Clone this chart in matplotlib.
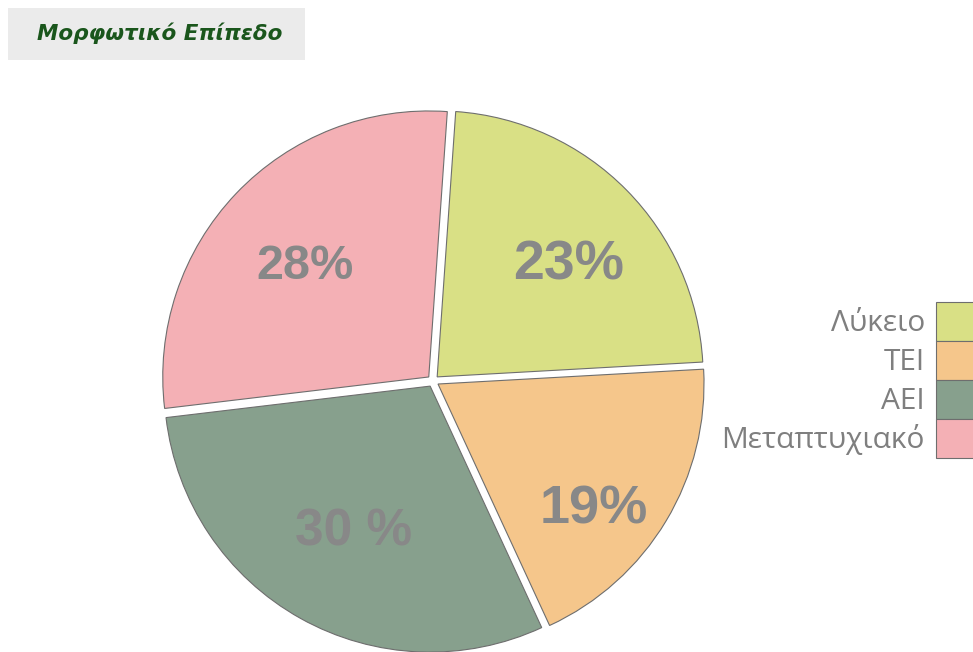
import numpy as np
import matplotlib
matplotlib.use("Agg")
import matplotlib.pyplot as plt
from matplotlib.patches import Rectangle

# data
categories = ["Λύκειο", "ΤΕΙ", "ΑΕΙ", "Μεταπτυχιακό"]
shares = [23, 19, 30, 28]
pct_labels = ["23%", "19%", "30 %", "28%"]
colors = ["#d9e085", "#f5c68b", "#87a08d", "#f4b0b5"]
title = "Μορφωτικό Επίπεδο"

W, H = 973, 652
fig = plt.figure(figsize=(W / 100, H / 100), dpi=100)

# pie axes: centre at (433, 381) px from top-left, radius 1 -> 266 px
cx, cy, R = 433, 381, 266
half = 1.1 * R
ax = fig.add_axes([(cx - half) / W, (H - cy - half) / H, 2 * half / W, 2 * half / H])

wedges, _ = ax.pie(shares, colors=colors, startangle=86, counterclock=False,
                   explode=[0.022] * len(shares),
                   wedgeprops=dict(edgecolor="#6e6e6e", linewidth=0.8))
ax.set_xlim(-1.1, 1.1)
ax.set_ylim(-1.1, 1.1)
ax.set_aspect("equal")
ax.axis("off")

# percentage labels inside the wedges
lab_r = [0.67, 0.774, 0.642, 0.647]
lab_shift = [-4, -7.6, 1.4, 1.8]
lab_size = [40, 39, 37, 35]
for w, txt, r, d, s in zip(wedges, pct_labels, lab_r, lab_shift, lab_size):
    ang = np.deg2rad((w.theta1 + w.theta2) / 2 + d)
    ax.text(r * np.cos(ang), r * np.sin(ang), txt, ha="center", va="center",
            fontsize=s, fontweight="bold", color="#888888",
            family="Liberation Sans")

# legend at the right edge, partly cut off like the original
leg = fig.legend(wedges, categories, loc="upper right",
                 bbox_to_anchor=(990 / W, (H - 302) / H),
                 frameon=False, markerfirst=False, borderpad=0,
                 borderaxespad=0, labelspacing=0, handlelength=1.8,
                 handleheight=1.63, handletextpad=0.38,
                 prop=dict(family="Open Sans", size=21.5))
for t in leg.get_texts():
    t.set_color("#7f7f7f")

# title box
fig.patches.append(Rectangle((8 / W, 1 - 60 / H), (305 - 8) / W, 52 / H,
                             transform=fig.transFigure, facecolor="#ebebeb",
                             edgecolor="none", zorder=0))
fig.text(160 / W, 1 - 33 / H, title, ha="center", va="center",
         fontsize=15.5, fontweight="bold", style="italic", color="#1a561c",
         family="DejaVu Sans")

fig.savefig("out.png", dpi=100)
